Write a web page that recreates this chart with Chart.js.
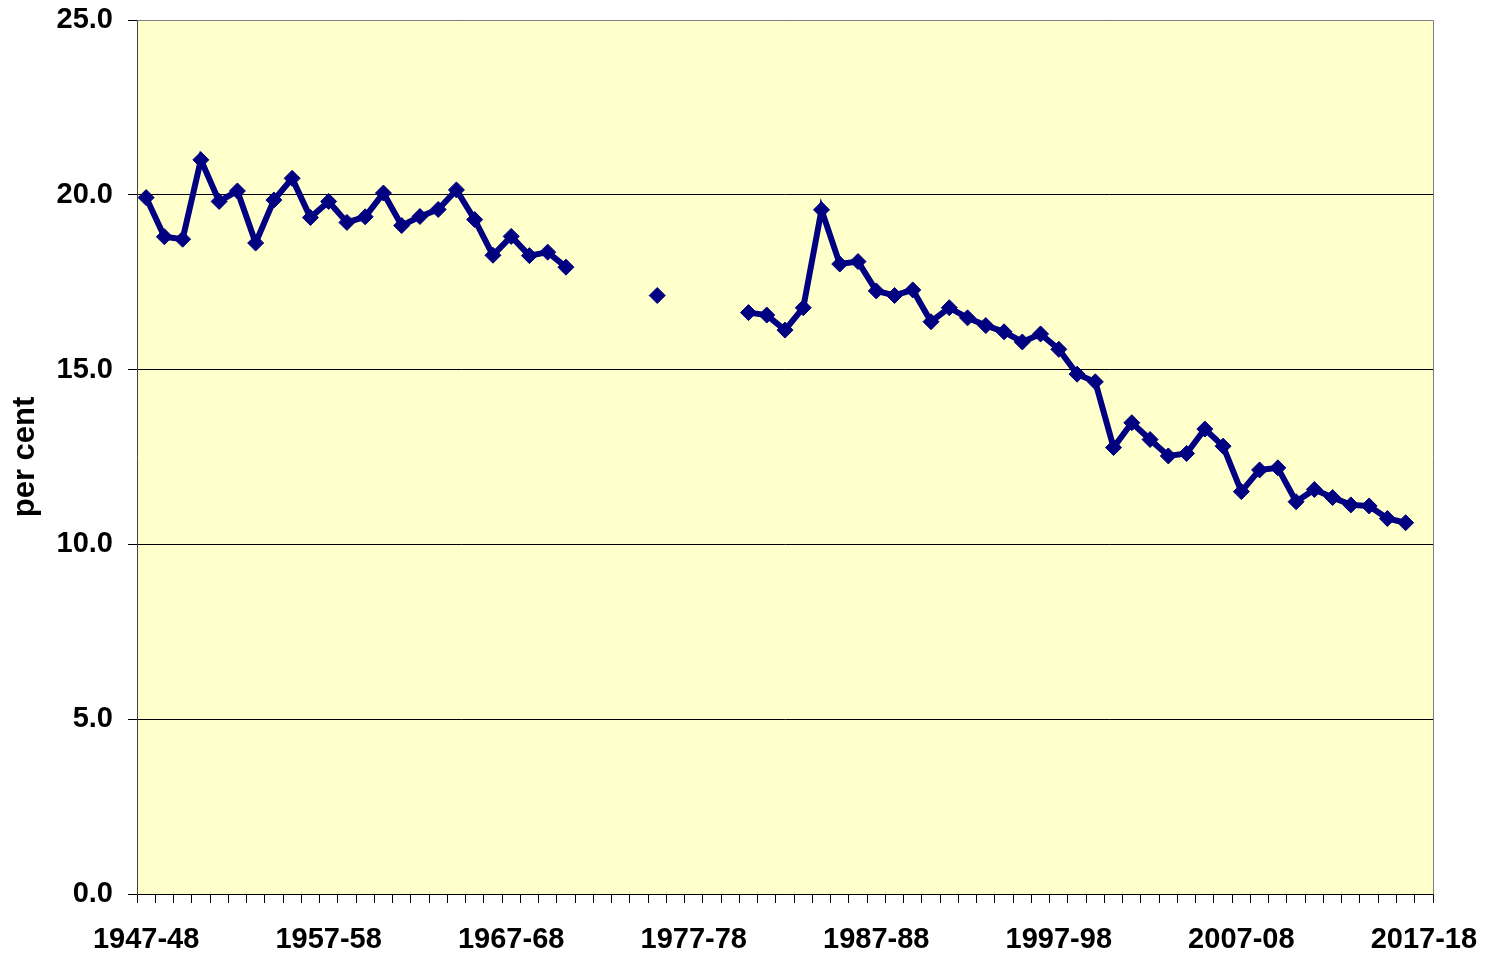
<!DOCTYPE html>
<html>
<head>
<meta charset="utf-8">
<script src="https://cdn.jsdelivr.net/npm/chart.js@4/dist/chart.umd.min.js"></script>
<style>
html,body{margin:0;padding:0;background:#fff;}
#c{display:block;}
</style>
</head>
<body>
<canvas id="c" width="1490" height="958"></canvas>
<script>
// financial years 1947-48 .. 2017-18
var startYears = [];
for (var y = 1947; y <= 2017; y++) startYears.push(y);
var years = startYears.map(function(y){ return y + '-' + String((y + 1) % 100).padStart(2, '0'); });

// per cent, null where no figure
var shareValues = [
  19.92, 18.80, 18.73, 21.00, 19.81, 20.11, 18.62, 19.85, 20.47, 19.35,
  19.81, 19.21, 19.37, 20.05, 19.12, 19.38, 19.58, 20.14, 19.29, 18.27,
  18.81, 18.26, 18.36, 17.93, null, null, null, null, 17.12, null,
  null, null, null, 16.63, 16.56, 16.13, 16.77, 19.57, 18.02, 18.09,
  17.25, 17.12, 17.28, 16.37, 16.77, 16.48, 16.26, 16.08, 15.79, 16.02,
  15.58, 14.87, 14.65, 12.77, 13.48, 13.00, 12.53, 12.60, 13.30, 12.81,
  11.51, 12.13, 12.19, 11.22, 11.57, 11.34, 11.13, 11.10, 10.74, 10.62,
  null
];
var yTicks = [0, 5, 10, 15, 20, 25];

var FONT = '"Liberation Sans", Arial, sans-serif';

// fondo amarillo y marco gris del area de trazado
var plotFrame = {
  id: 'plotFrame',
  beforeDraw: function(chart){
    var a = chart.chartArea, c = chart.ctx;
    c.save();
    c.fillStyle = '#FFFFCC';
    c.fillRect(a.left, a.top, a.right - a.left, a.bottom - a.top);
    c.restore();
  },
  afterDatasetsDraw: function(chart){
    var a = chart.chartArea, c = chart.ctx;
    c.save();
    c.strokeStyle = '#808080';
    c.lineWidth = 1;
    c.beginPath();
    c.moveTo(Math.round(a.left) + 0.5, Math.round(a.top) + 0.5);
    c.lineTo(Math.round(a.right) + 0.5, Math.round(a.top) + 0.5);
    c.lineTo(Math.round(a.right) + 0.5, Math.round(a.bottom) + 0.5);
    c.stroke();
    c.restore();
  }
};

new Chart(document.getElementById('c'), {
  type: 'line',
  data: {
    labels: years,
    datasets: [{
      data: shareValues,
      borderColor: '#000080',
      backgroundColor: '#000080',
      borderWidth: 6,
      pointStyle: 'rectRot',
      pointRadius: 8,
      pointBorderWidth: 1,
      pointBackgroundColor: '#000080',
      pointBorderColor: '#000080',
      spanGaps: false,
      tension: 0
    }]
  },
  options: {
    responsive: false,
    animation: false,
    layout: { padding: { top: 20, right: 57, bottom: 0, left: 0 } },
    plugins: { legend: { display: false }, tooltip: { enabled: false } },
    scales: {
      x: {
        type: 'category',
        offset: true,
        grid: { display: true, offset: true, drawOnChartArea: false, drawTicks: true, tickLength: 9, color: '#000', lineWidth: 1 },
        border: { display: true, color: '#000', width: 1 },
        ticks: {
          autoSkip: false, maxRotation: 0, minRotation: 0, padding: 20, color: '#000',
          font: { family: FONT, size: 29, weight: 'bold' },
          callback: function(v, i){ return i % 10 === 0 ? years[i] : ''; }
        },
        afterFit: function(s){ s.height = 64; s.paddingLeft = 0; s.paddingRight = 0; }
      },
      y: {
        min: 0, max: 25,
        afterBuildTicks: function(s){ s.ticks = yTicks.map(function(v){ return { value: v }; }); },
        grid: { color: '#000', lineWidth: 1, tickLength: 9, drawTicks: true },
        border: { display: true, color: '#404040', width: 1 },
        ticks: {
          padding: 15, color: '#000',
          font: { family: FONT, size: 29, weight: 'bold' },
          callback: function(v){ return Number(v).toFixed(1); }
        },
        title: {
          display: true, text: 'per cent', color: '#000',
          font: { family: FONT, size: 31, weight: 'bold' },
          padding: { top: 7, bottom: 0 }
        },
        afterFit: function(s){ s.width = 137; s.paddingTop = 0; s.paddingBottom = 0; }
      }
    }
  },
  plugins: [plotFrame]
});
</script>
</body>
</html>
